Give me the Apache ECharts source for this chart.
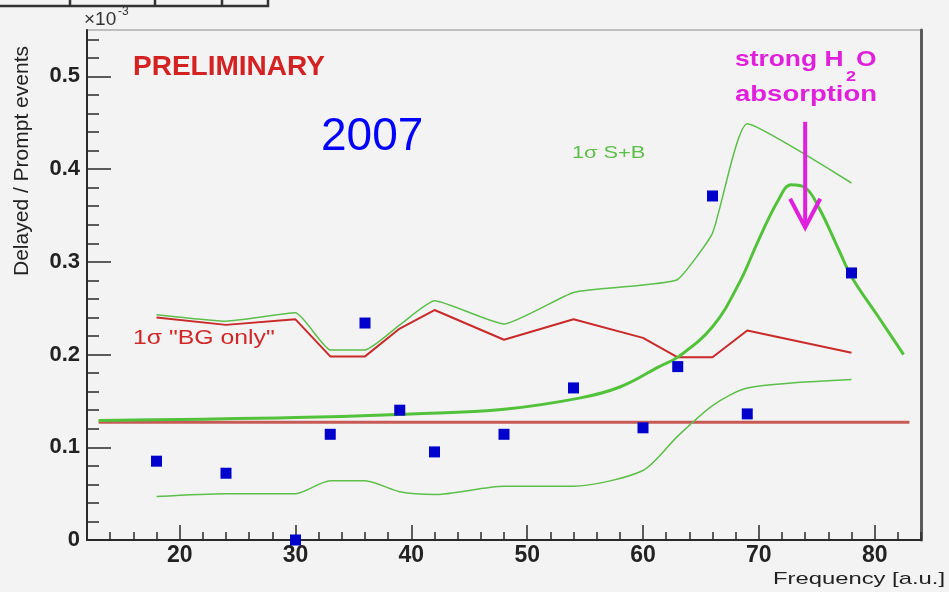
<!DOCTYPE html>
<html><head><meta charset="utf-8">
<script src="https://cdn.jsdelivr.net/npm/echarts@6/dist/echarts.min.js"></script>
<style>html,body{margin:0;padding:0;background:#f3f3f3}#c{width:949px;height:592px}</style>
</head><body><div id="c"></div>
<script>
// ---- data ----
const pointX = [18, 24, 30, 33, 36, 39, 42, 48, 54, 60, 63, 66, 69, 78];
const pointY = [0.085, 0.072, 0.0, 0.114, 0.234, 0.140, 0.095, 0.114, 0.164, 0.121, 0.187, 0.371, 0.136, 0.288];
const bandX  = [18, 24, 30, 33, 36, 39, 42, 48, 54, 60, 63, 66, 69, 78];
const sbUpper = [0.243, 0.236, 0.245, 0.205, 0.205, 0.232, 0.258, 0.233, 0.267, 0.275, 0.281, 0.331, 0.449, 0.385];
const sbLower = [0.047, 0.050, 0.050, 0.064, 0.064, 0.052, 0.049, 0.058, 0.058, 0.075, 0.112, 0.145, 0.164, 0.173];
const bgUpper = [0.240, 0.232, 0.238, 0.198, 0.198, 0.228, 0.248, 0.216, 0.238, 0.218, 0.197, 0.197, 0.226, 0.202];
const bgLevelX = [13, 83];
const bgLevelY = [0.127, 0.127];
const fitX = [13, 20, 30, 40, 48, 54.5, 58, 61.4, 63.1, 66, 68.3, 70, 71.7, 72.8, 74, 75.2, 76.9, 78, 80.3, 82.5];
const fitY = [0.129, 0.130, 0.132, 0.136, 0.141, 0.153, 0.165, 0.187, 0.198, 0.230, 0.277, 0.324, 0.367, 0.383, 0.380, 0.358, 0.313, 0.284, 0.241, 0.200];
const arrowShaftX = [74, 74];
const arrowShaftY = [0.451, 0.342];
const arrowHeadX = [72.7, 74, 75.3];
const arrowHeadY = [0.368, 0.337, 0.368];
// ---- ticks ----
const xMajor = [20, 30, 40, 50, 60, 70, 80];
const xMinor = [14, 16, 18, 22, 24, 26, 28, 32, 34, 36, 38, 42, 44, 46, 48, 52, 54, 56, 58, 62, 64, 66, 68, 72, 74, 76, 78, 82, 84];
const yMajor = [0, 0.1, 0.2, 0.3, 0.4, 0.5];
const yMinor = [0.02, 0.04, 0.06, 0.08, 0.12, 0.14, 0.16, 0.18, 0.22, 0.24, 0.26, 0.28, 0.32, 0.34, 0.36, 0.38, 0.42, 0.44, 0.46, 0.48, 0.52, 0.54];

const pairs = (xs, ys) => xs.map((x, i) => [x, ys[i]]);

const chart = echarts.init(document.getElementById('c'), null, {renderer: 'canvas'});
const axisColor = '#2a2a2a';
const lineSeries = (name, xs, ys, color, width, extra) => Object.assign({
  name, type: 'line', xAxisIndex: 0, yAxisIndex: 0, data: pairs(xs, ys),
  showSymbol: false, symbol: 'none', lineStyle: {color, width}, silent: true, animation: false
}, extra || {});

const txt = (text, x, y, font, fill, opts) => ({
  type: 'text', x, y, scaleX: (opts && opts.sx) || 1, rotation: (opts && opts.rot) || 0, z: 100,
  style: {text, font, fill, textAlign: (opts && opts.align) || 'left', textVerticalAlign: 'middle'}
});

chart.setOption({
  backgroundColor: '#f3f3f3',
  animation: false,
  grid: {left: 87, right: 28, top: 30, bottom: 52, show: true, borderColor: '#8a8a8a', borderWidth: 1, backgroundColor: '#f3f3f3'},
  xAxis: [
    {type: 'value', min: 12, max: 84, position: 'bottom',
     axisLine: {show: true, lineStyle: {color: axisColor, width: 2}},
     axisTick: {show: true, inside: true, length: 8, customValues: xMinor, lineStyle: {color: axisColor, width: 1.5}},
     axisLabel: {show: false}, splitLine: {show: false}},
    {type: 'value', min: 12, max: 84, position: 'bottom',
     axisLine: {show: false},
     axisTick: {show: true, inside: true, length: 15, customValues: xMajor, lineStyle: {color: axisColor, width: 1.5}},
     axisLabel: {show: true, customValues: xMajor, fontSize: 23, fontWeight: 'bold', color: '#222', margin: 4, fontFamily: 'Liberation Sans'},
     splitLine: {show: false}}
  ],
  yAxis: [
    {type: 'value', min: 0, max: 0.55, position: 'left',
     axisLine: {show: true, lineStyle: {color: axisColor, width: 2}},
     axisTick: {show: true, inside: true, length: 12, customValues: yMinor, lineStyle: {color: axisColor, width: 1.5}},
     axisLabel: {show: false}, splitLine: {show: false}},
    {type: 'value', min: 0, max: 0.55, position: 'left',
     axisLine: {show: false},
     axisTick: {show: true, inside: true, length: 24, customValues: yMajor, lineStyle: {color: axisColor, width: 1.5}},
     axisLabel: {show: true, customValues: yMajor, fontSize: 22, fontWeight: 'bold', color: '#222', margin: 7, fontFamily: 'Liberation Sans'},
     splitLine: {show: false}},
    {type: 'value', min: 0, max: 0.55, position: 'right',
     axisLine: {show: true, lineStyle: {color: '#5a5a5a', width: 3}},
     axisTick: {show: false}, axisLabel: {show: false}, splitLine: {show: false}}
  ],
  series: [
    lineSeries('BG level', bgLevelX, bgLevelY, '#c85a55', 3, {z: 2}),
    lineSeries('1σ BG only', bandX, bgUpper, '#c92a2a', 2, {z: 3}),
    lineSeries('1σ S+B upper', bandX, sbUpper, '#5cbf4a', 1.5, {z: 4, smooth: 0.15}),
    lineSeries('1σ S+B lower', bandX, sbLower, '#5cbf4a', 1.5, {z: 4, smooth: 0.25}),
    lineSeries('S+B fit', fitX, fitY, '#52c23a', 3, {z: 5, smooth: 0.4}),
    lineSeries('arrow shaft', arrowShaftX, arrowShaftY, '#e020dc', 4, {z: 8}),
    lineSeries('arrow head', arrowHeadX, arrowHeadY, '#e020dc', 4, {z: 8, lineStyle: {color: '#e020dc', width: 4, join: 'miter'}}),
    {name: 'Delayed/Prompt', type: 'scatter', xAxisIndex: 0, yAxisIndex: 0, data: pairs(pointX, pointY),
     symbol: 'rect', symbolSize: 11, itemStyle: {color: '#0000cc', opacity: 1}, z: 10, silent: true, animation: false}
  ],
  graphic: [
    {type: 'polyline', z: 100, shape: {points: [[0, 6], [268, 6], [268, 0]]}, style: {stroke: '#333', lineWidth: 2.5, fill: null}},
    {type: 'line', z: 100, shape: {x1: 70, y1: 0, x2: 70, y2: 6}, style: {stroke: '#333', lineWidth: 2.5}},
    {type: 'line', z: 100, shape: {x1: 155, y1: 0, x2: 155, y2: 6}, style: {stroke: '#333', lineWidth: 2.5}},
    {type: 'line', z: 100, shape: {x1: 222, y1: 0, x2: 222, y2: 6}, style: {stroke: '#333', lineWidth: 2.5}},
    txt('×10', 84, 20, '19px "Liberation Sans"', '#333'),
    txt('-3', 118, 12, '12px "Liberation Sans"', '#333'),
    txt('Delayed / Prompt events', 22, 161, '21px "Liberation Sans"', '#222', {rot: Math.PI / 2, align: 'center'}),
    txt('Frequency [a.u.]', 945, 579, '17px "Liberation Sans"', '#222', {align: 'right', sx: 1.4}),
    txt('PRELIMINARY', 133, 67, 'bold 28px "Liberation Sans"', '#d42222'),
    txt('2007', 321, 137, '46px "Liberation Sans"', '#0000ff'),
    txt('1σ S+B', 572, 153, '17px "Liberation Sans"', '#5cbf4a', {sx: 1.28}),
    txt('1σ "BG only"', 133, 338, '21px "Liberation Sans"', '#d02828', {sx: 1.18}),
    txt('strong H', 735, 60, 'bold 22px "Liberation Sans"', '#e020dc', {sx: 1.2}),
    txt('2', 846, 77, 'bold 15px "Liberation Sans"', '#e020dc', {sx: 1.2}),
    txt('O', 856, 60, 'bold 22px "Liberation Sans"', '#e020dc', {sx: 1.2}),
    txt('absorption', 735, 95, 'bold 22px "Liberation Sans"', '#e020dc', {sx: 1.25})
  ]
});
</script>
</body></html>
